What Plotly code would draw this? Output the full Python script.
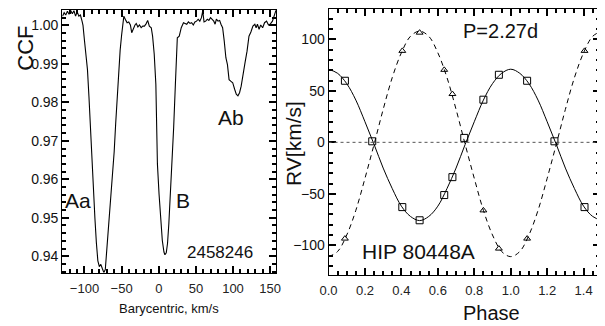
import plotly.graph_objects as go

# The page body has an 8px margin, so the figure is drawn 8px right/down of the window origin.
OFF = 8
W, H = 605 - OFF, 326 - OFF

# ---------------- Left panel: CCF ----------------
vel = [-129.6, -127.4, -125.2, -123.0, -120.8, -118.6, -116.4, -114.2, -112.0, -109.8, -107.6, -105.5, -103.3,
       -102, -100, -98, -96, -94, -92, -90, -88, -86, -84, -82, -80, -78, -76, -74, -72, -70, -68, -66, -64,
       -62, -60, -58, -56, -54, -52, -50, -48, -47,
       -44.3, -42.6, -40.4, -38.2, -36.4, -34.2, -32.0, -30.3, -28.1, -25.9, -23.7, -21.5, -19.3, -17.1,
       -14.9, -12.7, -10.1, -8.3, -6.1, -3.9, -1.8,
       0.4, 2.6, 4.8, 7.0, 8.3, 10.1, 11.8, 13.6, 15.8, 18.0, 20.1, 22.4, 23.7, 25.0, 27.6, 30.3, 33.3,
       37.7, 39.9, 42.1, 44.3, 46.5, 48.7, 50.9, 53.1, 55.3, 57.5, 59.2, 61.0, 63.2, 65.4, 67.5, 69.7, 71.9,
       74.1, 75.9, 77.6, 79.8, 82.0, 83.8, 86.0,
       88.2, 90.4, 92.5, 94.7, 96.9, 99.6, 102.2, 104.4, 106.6, 108.8, 111.0, 113.6, 116.2, 118.9, 121.5,
       124.1, 126.8, 129.4, 131.1, 132.9, 135.1, 137.3, 139.9, 142.5, 145.2, 147.8, 150.4, 153.1, 156.1, 157.8]
ccf = [1.0024, 1.0033, 1.0027, 1.0037, 1.0029, 1.0039, 1.0030, 1.0038, 1.0024, 1.0035, 1.0024, 1.0027, 1.0011,
       1.0000, 0.9960, 0.9925, 0.9885, 0.9815, 0.9725, 0.9645, 0.9570, 0.9500, 0.9435, 0.9388, 0.9373, 0.9379,
       0.9368, 0.9358, 0.9365, 0.9415, 0.9470, 0.9520, 0.9572,
       0.9620, 0.9672, 0.9745, 0.9820, 0.9885, 0.9935, 0.9975, 1.0008, 1.0024,
       1.0013, 1.0007, 1.0009, 1.0001, 0.9981, 0.9994, 1.0001, 1.0005, 0.9996, 1.0001, 0.9994, 0.9998, 0.9998,
       1.0004, 1.0013, 0.9998, 0.9994, 0.9972, 0.9925, 0.9847, 0.9640,
       0.9562, 0.9493, 0.9441, 0.9411, 0.9404, 0.9409, 0.9433, 0.9485, 0.9562, 0.9636, 0.9735, 0.9847, 0.9933,
       0.9968, 0.9972, 0.9994, 1.0007,
       1.0003, 1.0009, 1.0005, 1.0007, 1.0001, 1.0009, 1.0011, 1.0016, 1.0011, 1.0020, 1.0037, 1.0009, 1.0011,
       1.0016, 1.0013, 1.0020, 1.0016,
       1.0011, 1.0003, 1.0016, 1.0011, 1.0013, 1.0003, 0.9994,
       0.9959, 0.9916, 0.9898, 0.9859, 0.9855, 0.9851, 0.9834, 0.9821, 0.9817, 0.9825, 0.9842, 0.9868, 0.9903,
       0.9933, 0.9972,
       0.9983, 0.9998, 1.0003, 0.9994, 1.0003, 0.9990, 1.0001, 0.9994, 1.0007, 1.0011, 1.0001, 1.0004, 1.0011,
       1.0029, 1.0039]
assert len(vel) == len(ccf), (len(vel), len(ccf))

vel_ticks = [-100, -50, 0, 50, 100, 150]
ccf_ticks = [0.94, 0.95, 0.96, 0.97, 0.98, 0.99, 1.00]
ccf_ticktext = ["0.94", "0.95", "0.96", "0.97", "0.98", "0.99", "1.00"]

# ---------------- Right panel: RV curve ----------------
sq_phase = [0.09, 0.24, 0.405, 0.50, 0.635, 0.68, 0.745, 0.85, 0.935, 1.09, 1.24, 1.405]
sq_rv = [59.8, 1.0, -62.9, -75.7, -51.2, -33.8, 4.3, 41.4, 65.6, 59.8, 1.0, -62.9]
tri_phase = [0.09, 0.405, 0.50, 0.635, 0.68, 0.85, 0.935, 1.09, 1.405]
tri_rv = [-93.5, 88.8, 106.5, 70.4, 46.9, -66.1, -103.2, -93.5, 88.8]

fit_phase = [0.00, 0.05, 0.10, 0.15, 0.20, 0.25, 0.30, 0.35, 0.40, 0.45, 0.50, 0.55, 0.60, 0.65, 0.70, 0.75,
             0.80, 0.85, 0.90, 0.95, 1.00, 1.05, 1.10, 1.15, 1.20, 1.25, 1.30, 1.35, 1.40, 1.45, 1.50]
fit_solid = [71, 67, 57, 41, 20, -2, -25, -45, -62, -72, -76, -72, -62, -45, -25, -2, 20, 41, 57, 67, 71,
             67, 57, 41, 20, -2, -25, -45, -62, -72, -76]
fit_dashed = [-111, -106, -90, -66, -35, -2, 32, 63, 87, 103, 108, 103, 87, 63, 32, -2, -35, -66, -90, -106,
              -111, -106, -90, -66, -35, -2, 32, 63, 87, 103, 108]

phase_ticks = [0.0, 0.2, 0.4, 0.6, 0.8, 1.0, 1.2, 1.4]
phase_ticktext = ["0.0", "0.2", "0.4", "0.6", "0.8", "1.0", "1.2", "1.4"]
rv_ticks = [-100, -50, 0, 50, 100]


def fx(px):
    return (px - OFF) / W


def fy(py):
    return 1 - (py - OFF) / H


fig = go.Figure()
fig.add_trace(go.Scatter(x=vel, y=ccf, mode="lines", line=dict(color="black", width=1.1),
                         xaxis="x", yaxis="y", showlegend=False))
fig.add_trace(go.Scatter(x=fit_phase, y=fit_solid, mode="lines", line=dict(color="black", width=1, shape="spline"),
                         xaxis="x2", yaxis="y2", showlegend=False))
fig.add_trace(go.Scatter(x=fit_phase, y=fit_dashed, mode="lines",
                         line=dict(color="black", width=1, dash="5px,4px", shape="spline"),
                         xaxis="x2", yaxis="y2", showlegend=False))
fig.add_trace(go.Scatter(x=sq_phase, y=sq_rv, mode="markers",
                         marker=dict(symbol="square-open", size=7, color="black", line=dict(width=1)),
                         xaxis="x2", yaxis="y2", showlegend=False))
fig.add_trace(go.Scatter(x=tri_phase, y=tri_rv, mode="markers",
                         marker=dict(symbol="triangle-up-open", size=6, color="black", line=dict(width=1)),
                         xaxis="x2", yaxis="y2", showlegend=False))

tickfont = dict(family="Liberation Sans, Arial, sans-serif", size=14, color="#111")
xtickfont = dict(family="Liberation Sans, Arial, sans-serif", size=13, color="#222")


def axis_style():
    return dict(showline=True, linecolor="black", linewidth=1, mirror="allticks", ticks="inside",
                ticklen=7, tickwidth=1.5, tickcolor="black")


def minor_style(dtick, tick0):
    return dict(ticks="inside", ticklen=4, tickwidth=1.5, tickcolor="black", dtick=dtick, tick0=tick0)


fig.update_layout(
    width=W, height=H, margin=dict(l=0, r=0, t=0, b=0),
    paper_bgcolor="white", plot_bgcolor="white",
    xaxis=dict(domain=[fx(54.3), fx(273.3)], range=[-130, 158], tickvals=vel_ticks,
               tickfont=xtickfont, showgrid=False, zeroline=False, ticklabelstandoff=3,
               minor=minor_style(10, 0), **axis_style()),
    yaxis=dict(domain=[fy(273), fy(9)], range=[0.9356, 1.0040], tickvals=ccf_ticks, ticktext=ccf_ticktext,
               tickfont=tickfont, showgrid=False, zeroline=False,
               minor=minor_style(0.002, 0.94), **axis_style()),
    xaxis2=dict(domain=[fx(327), 1.0], range=[0, 1.49], tickvals=phase_ticks, ticktext=phase_ticktext,
                tickfont=xtickfont, anchor="y2", showgrid=False, zeroline=False, ticklabelstandoff=3,
                minor=minor_style(0.05, 0), **axis_style()),
    yaxis2=dict(domain=[fy(275), fy(8.5)], range=[-129, 129], tickvals=rv_ticks,
                tickfont=tickfont, anchor="x2", showgrid=False, zeroline=False,
                minor=minor_style(10, 0), **axis_style()),
)

fig.add_shape(type="line", xref="x2", yref="y2", x0=0, x1=1.49, y0=0, y1=0,
              line=dict(color="#555", width=1, dash="dot"))


def ann(text, px, py, size, angle=0, family="Liberation Sans, Arial, sans-serif"):
    fig.add_annotation(text=text, x=fx(px), y=fy(py), xref="paper", yref="paper",
                       showarrow=False, textangle=angle, xanchor="center", yanchor="middle",
                       font=dict(family=family, size=size, color="#111"))


ann("CCF", 17, 47, 22, angle=-90)
ann("Barycentric, km/s", 164, 308, 13)
ann("Aa", 70, 200, 21)
ann("B", 178, 200, 21)
ann("Ab", 227, 117, 21)
ann("2458246", 216, 252, 17)
ann("RV[km/s]", 291, 143, 21, angle=-90)
ann("Phase", 494, 313, 20)
ann("P=2.27d", 503, 30, 20)
ann("HIP 80448A", 419, 251, 21)

fig.write_html("out.html")
